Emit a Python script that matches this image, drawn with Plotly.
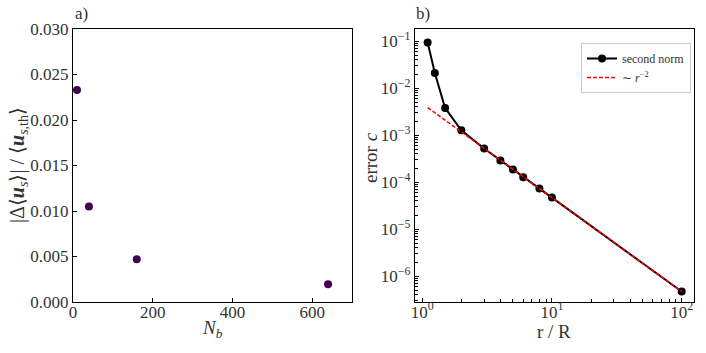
import plotly.graph_objects as go

# panel a) data
n_b = [10, 40, 160, 640]
rel_err = [0.0233, 0.0105, 0.0047, 0.00195]

# panel b) data
r_over_R = [1.1, 1.25, 1.5, 2, 3, 4, 5, 6, 8, 10, 100]
second_norm = [0.094, 0.021, 0.0038, 0.00127, 5.2e-4, 2.9e-4, 1.87e-4, 1.28e-4, 7.3e-5, 4.7e-5, 4.7e-7]
fit_r = [1.1, 2, 10, 100]
fit_c = [3.88e-3, 1.175e-3, 4.7e-5, 4.7e-7]

log_xticks = [1, 10, 100]
log_xtext = ["10<sup>0</sup>", "10<sup>1</sup>", "10<sup>2</sup>"]
log_yticks = [1e-6, 1e-5, 1e-4, 1e-3, 1e-2, 1e-1]
log_ytext = ["10<sup>−6</sup>", "10<sup>−5</sup>", "10<sup>−4</sup>",
             "10<sup>−3</sup>", "10<sup>−2</sup>", "10<sup>−1</sup>"]

FONT = "Liberation Serif"
W, H = 706, 353
x_minor = [m * 10 ** e for e in range(0, 2) for m in range(2, 10)]
y_minor = [m * 10 ** e for e in range(-7, 0) for m in range(2, 10)]

# plot areas in pixels (left, right, top, bottom)
left_px = (73, 352)
right_px = (415, 694)
top_px, bot_px = 29, 302
dom_a = [left_px[0] / W, left_px[1] / W]
dom_b = [right_px[0] / W, right_px[1] / W]
dom_y = [1 - bot_px / H, 1 - top_px / H]

fig = go.Figure()

fig.add_trace(go.Scatter(x=n_b, y=rel_err, mode="markers", showlegend=False,
                         marker=dict(color="#440154", size=8), xaxis="x", yaxis="y"))

fig.add_trace(go.Scatter(x=r_over_R, y=second_norm, mode="lines+markers", name="second norm",
                         line=dict(color="black", width=2), marker=dict(color="black", size=8),
                         xaxis="x2", yaxis="y2"))
fig.add_trace(go.Scatter(x=fit_r, y=fit_c, mode="lines", name="∼ <i>r</i><sup>−2</sup>",
                         line=dict(color="red", width=1.5, dash="4px,2px"),
                         xaxis="x2", yaxis="y2"))

axis_common = dict(showline=True, linecolor="black", linewidth=1.3, mirror=True,
                   ticks="inside", ticklen=4, tickcolor="black", showgrid=False,
                   zeroline=False, automargin=False,
                   tickfont=dict(family=FONT, size=17, color="#333"))

def label(text, xpx, ypx, size=19, angle=0, xanchor="center", yanchor="middle"):
    return dict(text=text, x=xpx / W, y=1 - ypx / H, xref="paper", yref="paper",
                xanchor=xanchor, yanchor=yanchor, showarrow=False, textangle=angle,
                font=dict(family=FONT, size=size, color="#333"))

fig.update_layout(
    width=W, height=H,
    margin=dict(l=0, r=0, t=0, b=0, pad=0),
    paper_bgcolor="white", plot_bgcolor="white",
    font=dict(family=FONT, color="#333"),
    xaxis=dict(domain=dom_a, range=[0, 700], tickvals=[0, 200, 400, 600],
               ticklabelstandoff=-6, anchor="y", **axis_common),
    yaxis=dict(domain=dom_y, range=[0, 0.03], dtick=0.005, tickformat=".3f",
               anchor="x", **axis_common),
    xaxis2=dict(domain=dom_b, type="log", range=[-0.056, 2.095],
                tickvals=log_xticks, ticktext=log_xtext, ticklabelstandoff=-6,
                minor=dict(ticks="inside", ticklen=2.5, tickcolor="black", tickvals=x_minor),
                anchor="y2", **axis_common),
    yaxis2=dict(domain=dom_y, type="log", range=[-6.55, -0.74],
                tickvals=log_yticks, ticktext=log_ytext,
                minor=dict(ticks="inside", ticklen=2.5, tickcolor="black", tickvals=y_minor),
                anchor="x2", **axis_common),
    legend=dict(x=691 / W, y=1 - 43 / H, xanchor="right", yanchor="top",
                bgcolor="rgba(255,255,255,0.8)", bordercolor="#ccc", borderwidth=1,
                font=dict(family=FONT, size=12, color="#333"), itemwidth=30,
                tracegroupgap=0),
    annotations=[
        label("a)", 73, 25, size=17, xanchor="left", yanchor="bottom"),
        label("b)", 414, 25, size=17, xanchor="left", yanchor="bottom"),
        label("<i>N</i><sub><i>b</i></sub>", 212, 329),
        label("r / R", 554, 331),
        label("|Δ⟨<b><i>u</i></b><sub><i>s</i></sub>⟩| / ⟨<b><i>u</i></b><sub><i>s</i>,th</sub>⟩",
              19, 165, size=20, angle=-90),
        label("error <i>c</i>", 370, 158, angle=-90),
    ],
)

# the page body has a default 8px margin; drop it so the figure fills the window
fig.write_html("out.html", config={"displayModeBar": False},
               post_script="document.body.style.margin='0';")
